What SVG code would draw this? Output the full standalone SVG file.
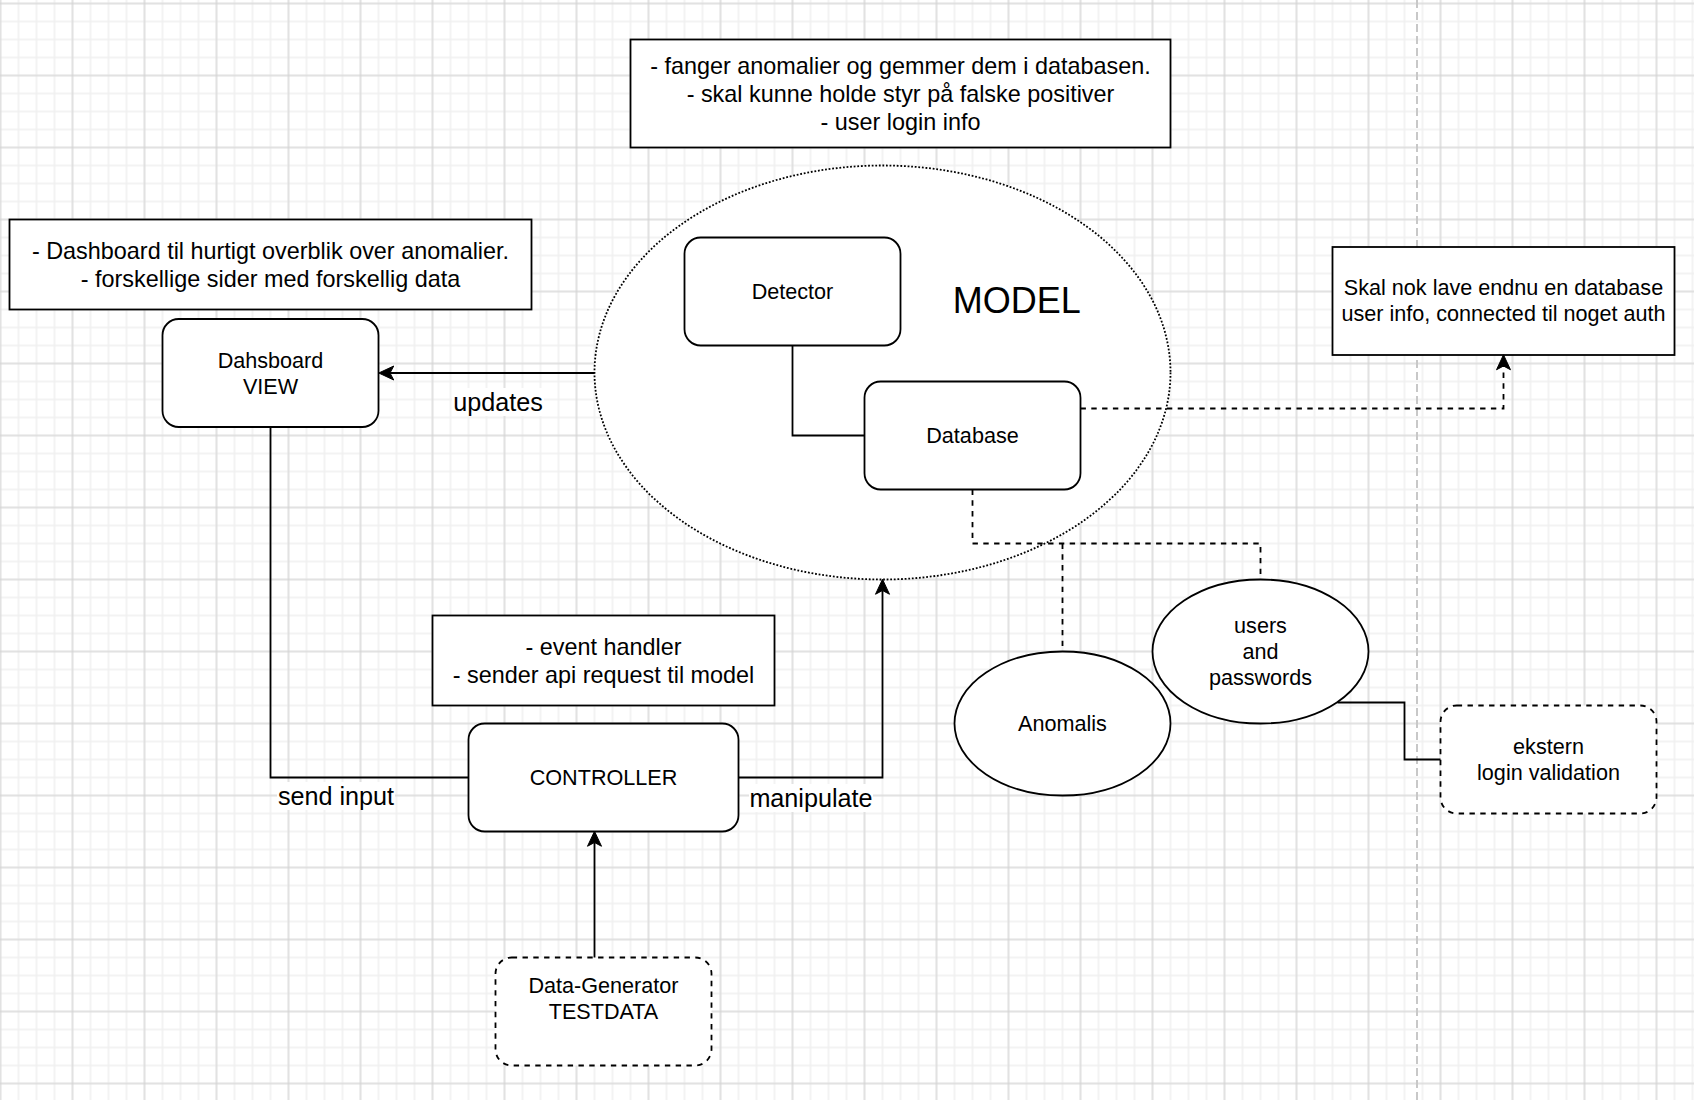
<svg xmlns="http://www.w3.org/2000/svg" width="1694" height="1100" viewBox="0 0 1694 1100">
<style>
.t{font-family:"Liberation Sans",Arial,Helvetica,sans-serif;fill:#000;text-anchor:middle}
.f12{font-size:21.6px}
.f13{font-size:23.4px}
.f14{font-size:25.2px}
.f20{font-size:36px}
.box{fill:#fff;stroke:#000;stroke-width:1.8}
.dash{stroke-dasharray:5.4 5.4}
.dot{stroke-dasharray:1.8 1.8}
.edge{fill:none;stroke:#000;stroke-width:1.8}
.lbl{fill:#fff}
</style>
<defs>
<pattern id="gMinor" x="-8.5" y="-5.5" width="18" height="18" patternUnits="userSpaceOnUse">
<path d="M9,0V18M0,9H18" stroke="#f0f0f0" stroke-width="1.5" fill="none"/>
</pattern>
<pattern id="gMajor" x="-35.5" y="-32.5" width="72" height="72" patternUnits="userSpaceOnUse">
<path d="M36,0V72M0,36H72" stroke="#d0d0d0" stroke-width="1" fill="none"/>
</pattern>
<marker id="arr" markerUnits="userSpaceOnUse" viewBox="-5 -8 18 16" refX="0" refY="0" markerWidth="18" markerHeight="16" orient="auto" overflow="visible">
<path d="M11.25,0L-3.75,-7L0,0L-3.75,7Z" fill="#000" stroke="#000" stroke-width="1"/>
</marker>
</defs>
<g id="background">
<rect x="0" y="0" width="1694" height="1100" fill="#fff"/>
<rect x="0" y="0" width="1694" height="1100" fill="url(#gMinor)"/>
<rect x="0" y="0" width="1694" height="1100" fill="url(#gMajor)"/>
<line x1="1417" y1="0" x2="1417" y2="1100" stroke="#c8c8c8" stroke-width="2" stroke-dasharray="8 4"/>
</g>
<g id="note-model">
<rect class="box" x="630.5" y="39.5" width="540" height="108"/>
<text class="t f13" x="900.5" y="73.6">- fanger anomalier og gemmer dem i databasen.</text>
<text class="t f13" x="900.5" y="101.6">- skal kunne holde styr på falske positiver</text>
<text class="t f13" x="900.5" y="129.6">- user login info</text>
</g>
<g id="note-view">
<rect class="box" x="9.5" y="219.5" width="522" height="90"/>
<text class="t f13" x="270.5" y="258.6">- Dashboard til hurtigt overblik over anomalier.</text>
<text class="t f13" x="270.5" y="286.6">- forskellige sider med forskellig data</text>
</g>
<g id="note-auth">
<rect class="box" x="1332.5" y="247" width="342" height="108"/>
<text class="t f12" x="1503.5" y="295">Skal nok lave endnu en database</text>
<text class="t f12" x="1503.5" y="321">user info, connected til noget auth</text>
</g>
<g id="view">
<rect class="box" x="162.5" y="319" width="216" height="108" rx="16.2" ry="16.2"/>
<text class="t f12" x="270.5" y="368">Dahsboard</text>
<text class="t f12" x="270.5" y="394">VIEW</text>
</g>
<g id="model">
<ellipse class="box dot" cx="882.5" cy="372.5" rx="288" ry="207"/>
<text class="t f20" x="1016.7" y="312.5">MODEL</text>
</g>
<g id="detector">
<rect class="box" x="684.5" y="237.5" width="216" height="108" rx="16.2" ry="16.2"/>
<text class="t f12" x="792.5" y="299">Detector</text>
</g>
<g id="database">
<rect class="box" x="864.5" y="381.5" width="216" height="108" rx="16.2" ry="16.2"/>
<text class="t f12" x="972.5" y="443">Database</text>
</g>
<g id="note-controller">
<rect class="box" x="432.5" y="615.5" width="342" height="90"/>
<text class="t f13" x="603.5" y="654.6">- event handler</text>
<text class="t f13" x="603.5" y="682.6">- sender api request til model</text>
</g>
<g id="controller">
<rect class="box" x="468.5" y="723.5" width="270" height="108" rx="16.2" ry="16.2"/>
<text class="t f12" x="603.5" y="785">CONTROLLER</text>
</g>
<g id="datagen">
<rect class="box dash" x="495.5" y="957.5" width="216" height="108" rx="16.2" ry="16.2"/>
<text class="t f12" x="603.5" y="993">Data-Generator</text>
<text class="t f12" x="603.5" y="1019">TESTDATA</text>
</g>
<g id="anomalis">
<ellipse class="box" cx="1062.5" cy="723.5" rx="108" ry="72"/>
<text class="t f12" x="1062.5" y="731">Anomalis</text>
</g>
<g id="users">
<ellipse class="box" cx="1260.5" cy="651.5" rx="108" ry="72"/>
<text class="t f12" x="1260.5" y="633">users</text>
<text class="t f12" x="1260.5" y="659">and</text>
<text class="t f12" x="1260.5" y="685">passwords</text>
</g>
<g id="ekstern">
<rect class="box dash" x="1440.5" y="705.5" width="216" height="108" rx="16.2" ry="16.2"/>
<text class="t f12" x="1548.5" y="754">ekstern</text>
<text class="t f12" x="1548.5" y="780">login validation</text>
</g>
<g id="connectors">
<path class="edge" d="M594.5,373H390" marker-end="url(#arr)"/>
<rect class="lbl" x="452" y="388" width="92" height="28"/>
<text class="t f14" x="498" y="410.7">updates</text>
<path class="edge" d="M270.5,427V777.5H468.5"/>
<rect class="lbl" x="277" y="782" width="118" height="28"/>
<text class="t f14" x="336" y="804.7">send input</text>
<path class="edge" d="M738.5,777.5H882.5V590.5" marker-end="url(#arr)"/>
<rect class="lbl" x="749" y="784" width="124" height="28"/>
<text class="t f14" x="811" y="806.7">manipulate</text>
<path class="edge" d="M594.5,957.5V842.5" marker-end="url(#arr)"/>
<path class="edge" d="M792.5,345.5V435.5H864.5"/>
<path class="edge dash" d="M972.5,489.5V543.5H1260.5V579.5"/>
<path class="edge dash" d="M1062.5,543.5V651.5"/>
<path class="edge dash" d="M1080.5,408.5H1503.5V366" marker-end="url(#arr)"/>
<path class="edge" d="M1337.5,702.5H1404.5V759.5H1440.5"/>
</g>
</svg>
